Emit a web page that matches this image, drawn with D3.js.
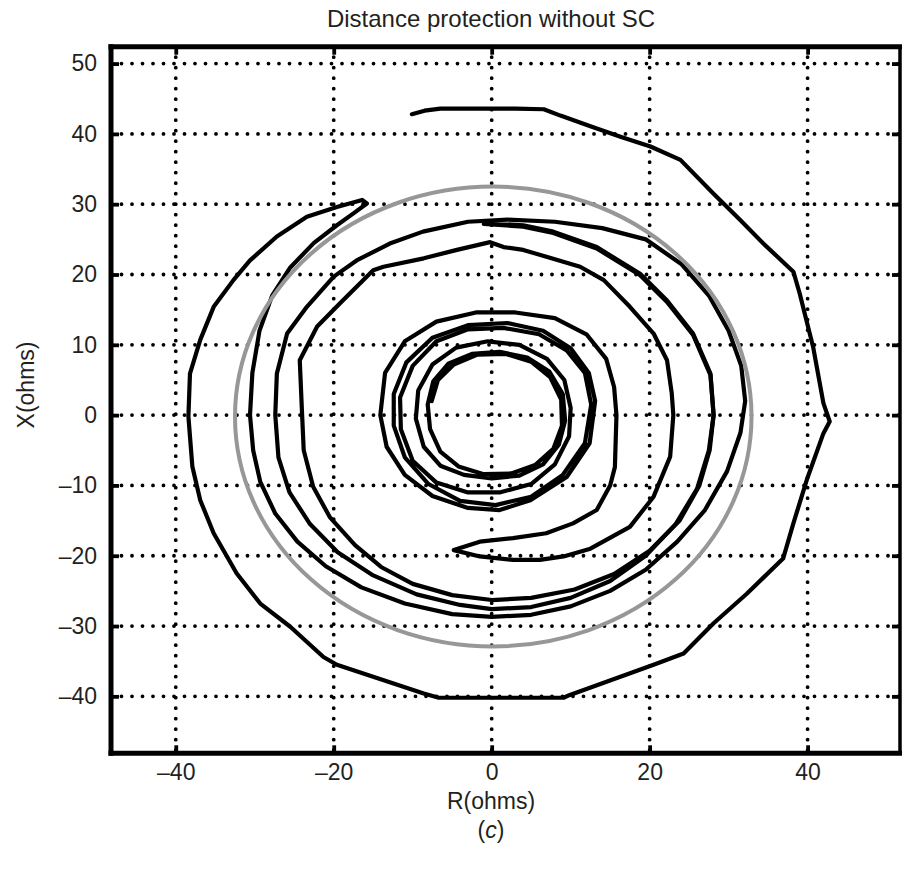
<!DOCTYPE html>
<html>
<head>
<meta charset="utf-8">
<script src="https://cdn.jsdelivr.net/npm/d3@7"></script>
<style>
  html, body { margin: 0; padding: 0; background: #fff; }
  svg { display: block; font-family: "Liberation Sans", Arial, Helvetica, sans-serif; }
</style>
</head>
<body>
<svg id="chart" width="902" height="869"></svg>
<script>
// Axis ticks (ohms)
const rTicks = [-40, -20, 0, 20, 40];
const xTicks = [-40, -30, -20, -10, 0, 10, 20, 30, 40, 50];
const rDomain = [-48.2, 51.7];
const xDomain = [-48.1, 52.4];

// Mho relay characteristic (centre R, X and radius, ohms)
const mhoCenter = [0.2, -0.2];
const mhoRadius = 32.7;

// Apparent impedance locus, outer sweeps [R, X]
const outerSweep = [
  [-10.1, 42.8], [-8.5, 43.3], [-6.5, 43.6], [-1, 43.6], [3, 43.6], [6.6, 43.5], [8.7, 42.6],
  [12.5, 41.1], [16.3, 39.6], [20.1, 38.2], [23.9, 36.3], [28, 31.6], [31.5, 27.7], [34.4, 24.4],
  [38.2, 20.4], [39, 17.3], [40.7, 9.7], [42, 1.7], [42.8, -0.9], [42, -2.6], [39.9, -9.2],
  [38.2, -15.4], [36.9, -20.4], [32.3, -25.4], [28.1, -29.6], [24.3, -33.9], [20.5, -35.5],
  [9.9, -39.8], [9.1, -40.2], [-6.7, -40.2], [-8.6, -39.6], [-19.6, -35.5], [-21.3, -34.4],
  [-25.5, -30.1], [-29.3, -26.8], [-32.3, -22.5], [-35.2, -16.8], [-36.9, -12.1], [-37.9, -7.3],
  [-38.4, -0.2], [-38.2, 5.9], [-36.9, 10.7], [-35.2, 15.4], [-32.7, 19.2], [-30.6, 22],
  [-27.2, 25.4], [-23.4, 28.2], [-19.6, 29.6], [-16.4, 30.6], [-15.8, 30.1],
  [-17.5, 28.7], [-19.6, 27], [-22.5, 24.5], [-25.5, 21], [-27.8, 17], [-29.4, 12], [-30.3, 6],
  [-30.6, 0], [-30.2, -5], [-29.3, -9.5], [-27.4, -14], [-24.6, -18], [-21, -21.5], [-16.5, -24.5],
  [-11, -26.8], [-5, -28.3], [0, -28.7], [5, -28.4], [10, -27.2], [15, -25], [19.5, -22],
  [23.5, -18], [27, -13.5], [29.8, -8], [31.5, -2.5], [32.1, 2], [31.6, 7], [30, 12], [27.5, 17],
  [24, 21.5], [19.5, 25], [14, 26.6], [8, 27.5], [2, 27.8], [-3, 27.5], [-8.7, 26.1],
  [-12.9, 24.4], [-17.1, 22], [-20, 19.7], [-23.4, 15.4], [-25.9, 11.6], [-27.2, 5.9], [-27.4, 0],
  [-27, -6], [-25.6, -11], [-23, -15.5], [-19.5, -19.5], [-15, -22.8], [-9.5, -25.5], [-4, -27],
  [0, -27.6], [5, -27.3], [10, -26], [15, -23.6], [19.5, -20], [23.3, -15.5], [26, -10.5],
  [27.5, -5], [28.1, 0], [27.7, 5.9], [25.5, 11.6], [22.2, 16.3], [18.8, 20.1], [13.3, 23.9],
  [7.8, 26.1], [4, 27], [-0.5, 27.3]
];

// Apparent impedance locus, inner sweeps [R, X]
const innerSweep = [
  [-1, 27.2], [4, 26.8], [7.8, 25.9], [13.3, 23.7], [18.8, 19.9], [22.2, 16.1], [25.5, 11.4],
  [27.7, 5.7], [28.1, 0], [27.6, -5], [26.3, -10], [23.8, -15], [20, -19.3], [15.5, -22.6],
  [10.5, -24.8], [5, -26], [0, -26.3], [-5, -25.6], [-10, -24], [-14, -21.6], [-17.3, -18.5],
  [-20.5, -14.5], [-22.6, -10.2], [-23.8, -5], [-24, 0], [-24.3, 7.8], [-22.1, 12.6],
  [-19.2, 15.9], [-15, 20.6], [-13.7, 21.1], [-8.6, 22.3], [-4.4, 23.5], [-0.2, 24.6],
  [1.5, 23.9], [4, 23.5], [11.2, 21.1], [14.2, 19.2], [17.5, 15.4], [20.5, 11.6], [22.2, 7.8],
  [22.8, 3.1], [23, 0], [22.6, -5.9], [20.5, -11.6], [17.5, -15.9], [12.5, -19], [9.1, -20.1],
  [6.1, -20.6], [2.7, -20.6], [-1.5, -20.1], [-4.8, -19.2], [-1.5, -18], [2.7, -17.5],
  [6.9, -16.8], [10.3, -15.4], [13.3, -13.5], [15, -10], [15.6, -7.4], [15.8, 0], [15.5, 4],
  [14.5, 8], [12, 11.5], [8, 13.8], [3, 14.6], [-2, 14.6], [-7, 13.3], [-11, 10.5], [-13.5, 6],
  [-14.1, 0], [-13.3, -4.5], [-11, -8.5], [-7.5, -11.5], [-3, -13.2], [1, -13.5], [4.9, -12.1],
  [9.5, -8.8], [12.4, -4], [13.1, 2], [12.3, 6], [10, 9.5], [6.5, 12], [2, 13.1], [-3, 12.8],
  [-7.5, 11], [-10.8, 7.5], [-12.4, 3], [-12.4, -1.5], [-11, -6], [-8, -9.8], [-4, -12.2],
  [0.5, -12.8], [5, -11.6], [9, -8.5], [11.8, -4], [12.6, 1.5], [11.8, 6], [9.5, 9.2], [6, 11.5],
  [1.5, 12.4], [-3, 12.2], [-7, 10.5], [-10, 7], [-11.6, 2.5], [-11.5, -2], [-10, -6.5],
  [-7, -9.6], [-3, -11], [1, -11], [5, -9.8], [8, -7], [9.8, -3], [10, 1], [9.2, 5], [7, 8],
  [3.5, 10], [-0.5, 10.5], [-4.5, 9.6], [-7.5, 7.2], [-9.3, 3.5], [-9.6, -0.5], [-8.6, -4.5],
  [-6.5, -7.2], [-3.5, -8.5], [0, -9], [3.5, -8.6], [6.5, -7], [8.5, -4.2], [9.3, -0.8], [9, 3],
  [7.3, 6.2], [4.5, 8.2], [1, 9], [-2.5, 8.7], [-5.5, 7.3], [-7.4, 4.8], [-8.1, 1.5], [-7.8, -2],
  [-6.5, -5.2], [-4.2, -7.3], [-1, -8.4], [2.5, -8.3], [5.5, -7.1], [7.8, -4.8], [8.9, -1.5],
  [8.8, 2.2], [7.4, 5.4], [5, 7.6], [1.8, 8.7], [-1.8, 8.6], [-4.8, 7.2], [-6.8, 5], [-7.6, 2]
];

const plot = { left: 111, right: 900, top: 46.7, bottom: 753.3 };
const svg = d3.select("#chart");

const x = d3.scaleLinear().domain(rDomain).range([plot.left, plot.right]);
const y = d3.scaleLinear().domain(xDomain).range([plot.bottom, plot.top]);

const fmt = d => (d < 0 ? "\u2013" + Math.abs(d) : String(d));

// Dotted grid
const grid = svg.append("g")
  .attr("stroke", "#000").attr("stroke-width", 3.8)
  .attr("stroke-linecap", "round").attr("stroke-dasharray", "0 10.5");
grid.selectAll(".gv").data(rTicks).join("line")
  .attr("x1", d => x(d)).attr("x2", d => x(d))
  .attr("y1", plot.top).attr("y2", plot.bottom);
grid.selectAll(".gh").data(xTicks).join("line")
  .attr("x1", plot.left).attr("x2", plot.right)
  .attr("y1", d => y(d)).attr("y2", d => y(d));

// Impedance locus
const line = d3.line().x(d => x(d[0])).y(d => y(d[1]));
svg.append("g")
  .attr("fill", "none").attr("stroke", "#000").attr("stroke-width", 4.2)
  .attr("stroke-linejoin", "round").attr("stroke-linecap", "round")
  .selectAll("path").data([outerSweep, innerSweep]).join("path")
  .attr("d", line);

// Relay characteristic
svg.append("ellipse")
  .attr("cx", x(mhoCenter[0])).attr("cy", y(mhoCenter[1]))
  .attr("rx", x(mhoCenter[0] + mhoRadius) - x(mhoCenter[0]))
  .attr("ry", y(mhoCenter[1] - mhoRadius) - y(mhoCenter[1]))
  .attr("fill", "none").attr("stroke", "#979797").attr("stroke-width", 4);

// Axes with inward ticks on all four sides
function styleAxis(g) {
  g.select(".domain").remove();
  g.selectAll(".tick line").attr("stroke", "#000").attr("stroke-width", 3.8);
  g.selectAll(".tick text").attr("fill", "#231f20").attr("font-size", 23);
}
svg.append("g").attr("transform", `translate(0,${plot.bottom})`)
  .call(d3.axisBottom(x).tickValues(rTicks).tickSize(-8).tickPadding(10).tickFormat(fmt))
  .call(styleAxis);
svg.append("g").attr("transform", `translate(0,${plot.top})`)
  .call(d3.axisTop(x).tickValues(rTicks).tickSize(-8).tickFormat(""))
  .call(styleAxis);
svg.append("g").attr("transform", `translate(${plot.left},0)`)
  .call(d3.axisLeft(y).tickValues(xTicks).tickSize(-8).tickPadding(14).tickFormat(fmt))
  .call(styleAxis);
svg.append("g").attr("transform", `translate(${plot.right},0)`)
  .call(d3.axisRight(y).tickValues(xTicks).tickSize(-8).tickFormat(""))
  .call(styleAxis);

// Frame
const frame = svg.append("g").attr("stroke", "#000").attr("stroke-linecap", "square");
frame.append("line").attr("x1", plot.left).attr("x2", plot.right)
  .attr("y1", plot.top).attr("y2", plot.top).attr("stroke-width", 5);
frame.append("line").attr("x1", plot.left).attr("x2", plot.right)
  .attr("y1", plot.bottom).attr("y2", plot.bottom).attr("stroke-width", 5);
frame.append("line").attr("x1", plot.left).attr("x2", plot.left)
  .attr("y1", plot.top).attr("y2", plot.bottom).attr("stroke-width", 5);
frame.append("line").attr("x1", plot.right).attr("x2", plot.right)
  .attr("y1", plot.top).attr("y2", plot.bottom).attr("stroke-width", 3.5);

// Titles
svg.append("text").attr("x", 491).attr("y", 27).attr("text-anchor", "middle")
  .attr("font-size", 24).attr("fill", "#231f20").text("Distance protection without SC");
svg.append("text").attr("x", 491).attr("y", 809).attr("text-anchor", "middle")
  .attr("font-size", 23).attr("fill", "#231f20").text("R(ohms)");
const cap = svg.append("text").attr("x", 491).attr("y", 838).attr("text-anchor", "middle")
  .attr("font-size", 23).attr("fill", "#231f20");
cap.append("tspan").text("(");
cap.append("tspan").attr("font-style", "italic").text("c");
cap.append("tspan").text(")");
svg.append("text").attr("transform", "translate(34,385) rotate(-90)")
  .attr("text-anchor", "middle").attr("font-size", 23).attr("fill", "#231f20").text("X(ohms)");
</script>
</body>
</html>
